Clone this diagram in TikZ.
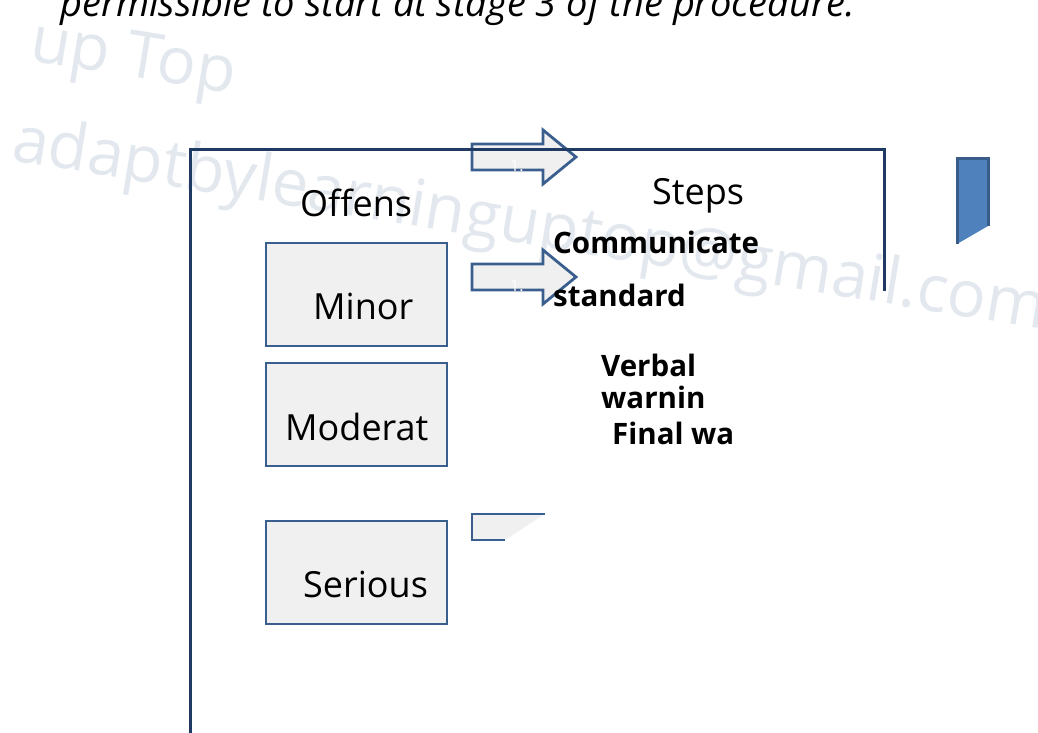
\documentclass[tikz,border=0pt]{standalone}
\usepackage{fontspec}
\setmainfont{Open Sans}
\definecolor{framecol}{HTML}{1F3B63}
\definecolor{shapeline}{HTML}{3A5F8F}
\definecolor{shapefill}{HTML}{F0F0F0}
\definecolor{accentfill}{HTML}{4F81BD}
\definecolor{accentline}{HTML}{385D8A}
\definecolor{markcol}{HTML}{E3E8EF}
\tikzset{
  framestyle/.style={draw=framecol, line width=3pt},
  box/.style={draw=shapeline, fill=shapefill, line width=2.8pt, minimum width=181pt, minimum height=103pt, inner sep=0pt},
  arrowbody/.style={draw=shapeline, fill=shapefill, line width=2.8pt, line join=miter},
  label/.style={font=\fontsize{36}{36}\selectfont, anchor=base west, inner sep=0pt},
  steptext/.style={font=\bfseries\fontsize{29.5}{29.5}\selectfont, anchor=base west, inner sep=0pt},
  watermark/.style={text=markcol, font=\fontsize{65}{65}\selectfont, anchor=base west, inner sep=0pt, rotate=-9.3},
}
\begin{document}
\begin{tikzpicture}[x=1pt,y=-1pt]
\useasboundingbox (0,0) rectangle (1038,733);

% faint watermark lines
\node[watermark] (mark1) at (28,60) {up Top};
\node[watermark] (mark2) at (10,160) {adaptbylearninguptop@gmail.com};

% heading line, cut at the top edge
\node[font=\itshape\fontsize{38}{38}\selectfont, anchor=base west, inner sep=0pt] (intro) at (60,17) {permissible to start at stage 3 of the procedure.};

% first block arrow (under the frame line)
\path[arrowbody] (472,144) -- (543,144) -- (543,130) -- (576,157) -- (543,184) -- (543,170) -- (472,170) -- cycle;
\node[text=white, font=\fontsize{16}{16}\selectfont, anchor=base west, inner sep=0pt] (num1) at (510,171) {1.};

% outer frame
\draw[framestyle] (190,733) -- (190,149) -- (884,149) -- (884,291);

% second block arrow
\path[arrowbody] (472,264) -- (543,264) -- (543,250) -- (576,277) -- (543,304) -- (543,290) -- (472,290) -- cycle;
\node[text=white, font=\fontsize{16}{16}\selectfont, anchor=base west, inner sep=0pt] (num2) at (510,291) {1.};

% clipped third arrow
\fill[shapefill] (472,514) -- (545,514) -- (505,540) -- (472,540) -- cycle;
\draw[draw=shapeline, line width=2.8pt] (545,514) -- (472,514) -- (472,540) -- (505,540);

% clipped blue tab on the right
\fill[accentfill] (957,158) -- (988,158) -- (988,226) -- (957,244) -- cycle;
\draw[draw=accentline, line width=3pt] (957,244) -- (957,158) -- (988,158) -- (988,226);

% offence boxes
\node[box] (minor) at (356.5,294.5) {};
\node[box] (moderate) at (356.5,414.5) {};
\node[box] (serious) at (356.5,572.5) {};

\node[label] (offens) at (300,216) {Offens};
\node[label] (minortxt) at (313,319) {Minor};
\node[label] (modtxt) at (285,440) {Moderat};
\node[label] (sertxt) at (303,597) {Serious};
\node[label] (steps) at (652,204) {Steps};

% step texts
\node[steptext] (comm) at (553,253) {Communicate};
\node[steptext] (std) at (553,306) {standard};
\node[steptext] (verbal) at (601,376) {Verbal};
\node[steptext] (warn) at (601,408) {warnin};
\node[steptext] (final) at (612,444) {Final wa};
\end{tikzpicture}
\end{document}
